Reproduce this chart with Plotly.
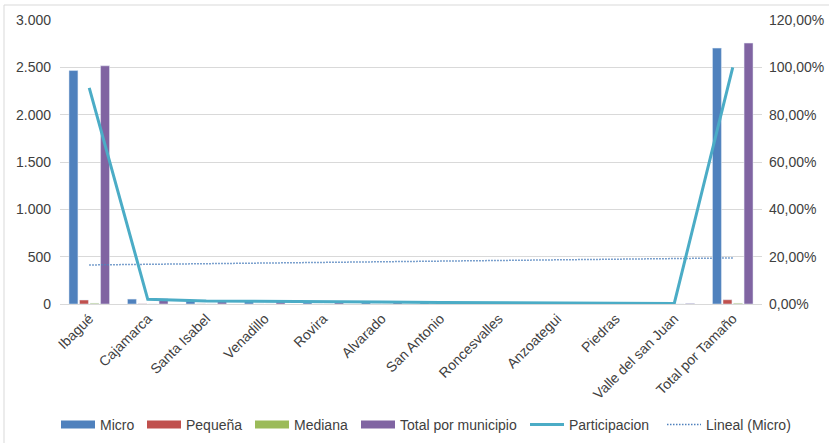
import numpy as np
import plotly.graph_objects as go

municipios = ["Ibagué", "Cajamarca", "Santa Isabel", "Venadillo", "Rovira", "Alvarado",
              "San Antonio", "Roncesvalles", "Anzoategui", "Piedras", "Valle del san Juan",
              "Total por Tamaño"]
micro = [2466, 52, 34, 28, 25, 22, 18, 15, 14, 12, 6, 2703]
pequena = [42, 2, 1, 0, 0, 0, 0, 0, 0, 0, 0, 45]
mediana = [8, 0, 0, 0, 0, 0, 0, 0, 0, 0, 0, 8]
total_municipio = [2516, 55, 35, 28, 25, 22, 18, 15, 14, 12, 6, 2756]
participacion = [t / total_municipio[-1] for t in total_municipio]

# linear trend of Micro (Excel "Lineal")
xs = np.arange(1, len(micro) + 1)
slope, intercept = np.polyfit(xs, micro, 1)
trend = slope * xs + intercept

FONT = "Liberation Sans, Arial, sans-serif"
TXT = "#404040"
GRID = "#D9D9D9"
C_MICRO, C_PEQ, C_MED, C_TOT = "#4F81BD", "#C0504D", "#9BBB59", "#8064A2"
C_PART = "#4BACC6"

PL, PW = 60, 702  # plot-area left edge and width in px
PT, PH = 20, 284

fig = go.Figure()
fig.add_bar(x=municipios, y=micro, name="Micro", marker_color=C_MICRO, showlegend=False)
fig.add_bar(x=municipios, y=pequena, name="Pequeña", marker_color=C_PEQ, showlegend=False)
fig.add_bar(x=municipios, y=mediana, name="Mediana", marker_color=C_MED, showlegend=False)
fig.add_bar(x=municipios, y=total_municipio, name="Total por municipio", marker_color=C_TOT,
            showlegend=False)
fig.add_scatter(x=municipios, y=participacion, name="Participacion", mode="lines",
                line=dict(color=C_PART, width=3), yaxis="y2", showlegend=False)
fig.add_scatter(x=municipios, y=trend, name="Lineal (Micro)", mode="lines",
                line=dict(color=C_MICRO, width=1.5, dash="1.5px,1.5px"), showlegend=False)

# legend entries (Excel-style wide swatches), one legend box per entry
entries = [
    ("Micro", C_MICRO, 8, "solid", 56),
    ("Pequeña", C_PEQ, 8, "solid", 142),
    ("Mediana", C_MED, 8, "solid", 250),
    ("Total por municipio", C_TOT, 8, "solid", 356),
    ("Participacion", C_PART, 3, "solid", 525),
    ("Lineal (Micro)", C_MICRO, 1.5, "1.5px,1.5px", 662),
]
legend_layouts = {}
for i, (name, color, w, dash, xpx) in enumerate(entries):
    key = "legend" if i == 0 else f"legend{i + 1}"
    fig.add_scatter(x=[None], y=[None], mode="lines", name=name,
                    line=dict(color=color, width=w, dash=dash), legend=key, showlegend=True)
    legend_layouts[key] = dict(
        orientation="h", x=(xpx - PL) / PW, xanchor="left",
        y=(PT + PH - 425) / PH, yanchor="middle",
        font=dict(size=14, color=TXT, family=FONT), itemwidth=34,
        bgcolor="rgba(0,0,0,0)", borderwidth=0,
    )

fig.update_layout(
    width=829, height=443,
    margin=dict(l=PL, r=829 - PL - PW, t=PT, b=443 - PT - PH, autoexpand=False),
    paper_bgcolor="white", plot_bgcolor="white",
    separators=",.",
    barmode="group", bargap=0.28, bargroupgap=0.15,
    font=dict(family=FONT, size=14, color=TXT),
    showlegend=True,
    xaxis=dict(tickangle=-45, showgrid=False, showline=True, linecolor=GRID, linewidth=1,
               ticks="", automargin=False, tickfont=dict(size=14, color=TXT)),
    yaxis=dict(range=[0, 3000], dtick=500, tickformat=",d", showgrid=True, gridcolor=GRID,
               zeroline=False, showline=False, ticks="", automargin=False,
               ticklabelstandoff=8, tickfont=dict(size=14, color=TXT)),
    yaxis2=dict(range=[0, 1.2], dtick=0.2, tickformat=".2%", overlaying="y", side="right",
                showgrid=False, zeroline=False, showline=False, ticks="", automargin=False,
                ticklabelstandoff=6, tickfont=dict(size=14, color=TXT)),
    shapes=[
        dict(type="line", xref="paper", yref="paper", x0=-56 / PW, x1=1.2,
             y0=1 + 15 / PH, y1=1 + 15 / PH, line=dict(color=GRID, width=1)),
        dict(type="line", xref="paper", yref="paper", x0=-56 / PW, x1=-56 / PW,
             y0=1 + 15 / PH, y1=-0.6, line=dict(color=GRID, width=1)),
    ],
    **legend_layouts,
)

fig.write_html("out.html")
